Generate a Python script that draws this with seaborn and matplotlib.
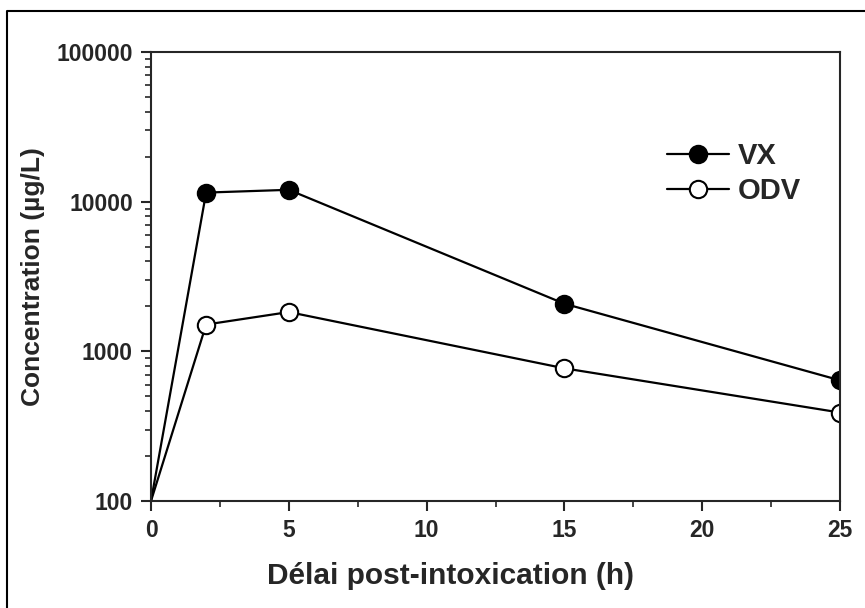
import numpy as np
import pandas as pd
import seaborn as sns
import matplotlib.pyplot as plt
from matplotlib.lines import Line2D
from matplotlib.ticker import LogLocator, NullFormatter, MultipleLocator

# data
hours = [0, 2, 5, 15, 25]
vx = [100, 11500, 12000, 2080, 640]
odv = [100, 1510, 1830, 770, 390]

df = pd.DataFrame({"hours": hours, "VX": vx, "ODV": odv})

sns.set_style("ticks")
plt.rcParams['font.family'] = ['Liberation Sans', 'DejaVu Sans']
plt.rcParams['font.weight'] = 'bold'

fig = plt.figure(figsize=(8.65, 6.08), dpi=100)
ax = fig.add_axes([151/865, 1-501/608, (840-151)/865, (501-52)/608])

sns.lineplot(data=df, x="hours", y="VX", ax=ax, color="black", lw=1.6,
             marker="o", markersize=12.5, markerfacecolor="black",
             markeredgecolor="black", markeredgewidth=1.5,
             markevery=[1, 2, 3, 4], label="VX")
sns.lineplot(data=df, x="hours", y="ODV", ax=ax, color="black", lw=1.6,
             marker="o", markersize=12.5, markerfacecolor="white",
             markeredgecolor="black", markeredgewidth=1.5,
             markevery=[1, 2, 3, 4], label="ODV")

ax.set_yscale("log")
ax.set_ylim(100, 100000)
ax.set_xlim(0, 25)
ax.set_yticks([100, 1000, 10000, 100000])
ax.set_yticklabels(["100", "1000", "10000", "100000"])
ax.yaxis.set_minor_locator(LogLocator(base=10, subs=np.arange(2, 10)))
ax.yaxis.set_minor_formatter(NullFormatter())
ax.set_xticks([0, 5, 10, 15, 20, 25])
ax.xaxis.set_minor_locator(MultipleLocator(2.5))

for s in ax.spines.values():
    s.set_linewidth(1.5)
ax.tick_params(which="major", direction="out", length=7, width=1.5,
               labelsize=16.5, pad=6)
ax.tick_params(which="minor", direction="out", length=4, width=1.2)
for lab in ax.get_xticklabels() + ax.get_yticklabels():
    lab.set_fontweight("bold")

ax.set_xlabel("Délai post-intoxication (h)", fontsize=21.5, fontweight="bold", labelpad=12)
ax.xaxis.set_label_coords(0.435, -0.135)
ax.set_ylabel("Concentration (µg/L)", fontsize=19, fontweight="bold", labelpad=8)

leg = ax.legend(loc="upper left", bbox_to_anchor=(0.72, 0.845), frameon=False,
                handlelength=2.1, handletextpad=0.3, labelspacing=0.25,
                borderpad=0.2, prop={"weight": "bold", "size": 21})

# outer frame of the figure (left and top edges)
fig.add_artist(Line2D([7/865, 7/865, 1], [0, 1-11/608, 1-11/608],
                      transform=fig.transFigure, color="black", lw=1.5))

fig.savefig("out.png", dpi=100)
